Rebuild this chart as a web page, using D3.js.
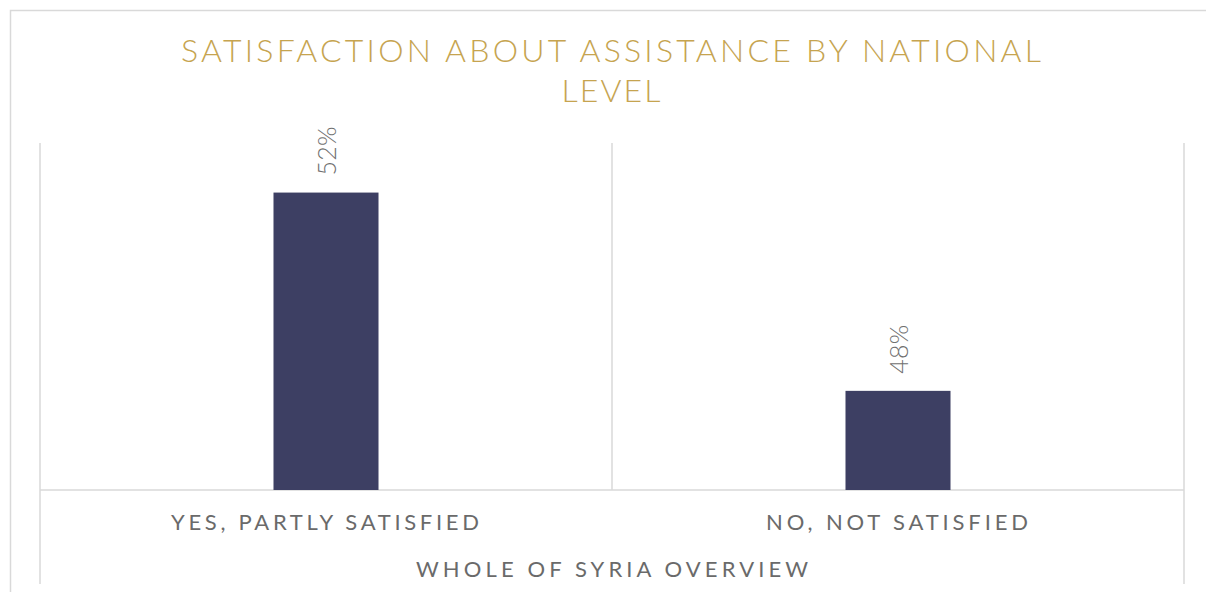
<!DOCTYPE html>
<html>
<head>
<meta charset="utf-8">
<script src="https://cdn.jsdelivr.net/npm/d3@7"></script>
<style>
  html, body { margin: 0; padding: 0; background: #ffffff; }
  svg { display: block; }
  text { font-family: "Lato", "Open Sans", sans-serif; }
</style>
</head>
<body>
<div id="chart"></div>
<script>
// Survey answers and their shares (percent)
const categories = ["YES, PARTLY SATISFIED", "NO, NOT SATISFIED"];
const values = [52, 48];
const groupLabel = "WHOLE OF SYRIA OVERVIEW";
const titleLines = ["SATISFACTION ABOUT ASSISTANCE BY NATIONAL", "LEVEL"];
const valueDomain = [46, 53];

const W = 1206, H = 592;
const plot = { left: 40, right: 1184, top: 143, bottom: 490 };
const gridColor = "#d9d9d9";

const svg = d3.select("#chart").append("svg")
  .attr("width", W).attr("height", H);

// Chart frame
svg.append("path")
  .attr("d", `M10.5,${H + 2}V10.5H${W + 2}`)
  .attr("fill", "none").attr("stroke", gridColor).attr("stroke-width", 1.5);

// Title
const title = svg.append("g").attr("fill", "#c6a450").attr("font-weight", 300)
  .attr("font-size", 32);
const titleLens = [860, 99];
titleLines.forEach((t, i) => {
  title.append("text")
    .attr("x", 611).attr("y", 62 + i * 40)
    .attr("text-anchor", "middle")
    .attr("textLength", titleLens[i]).attr("lengthAdjust", "spacing")
    .text(t);
});

const x = d3.scaleBand().domain(categories).range([plot.left, plot.right]).padding(0);
const y = d3.scaleLinear().domain(valueDomain).range([plot.bottom, plot.top]);
const barW = x.bandwidth() * 0.1836;

// Category separators and baseline
const grid = svg.append("g").attr("stroke", gridColor).attr("stroke-width", 1.5);
const edges = [plot.left, ...categories.slice(1).map(c => x(c)), plot.right];
edges.forEach((ex, i) => {
  const isOuter = i === 0 || i === edges.length - 1;
  grid.append("line")
    .attr("x1", ex).attr("x2", ex)
    .attr("y1", plot.top).attr("y2", isOuter ? 584 : plot.bottom);
});
grid.append("line")
  .attr("x1", plot.left).attr("x2", plot.right)
  .attr("y1", plot.bottom).attr("y2", plot.bottom);

// Bars
svg.append("g").selectAll("rect")
  .data(categories)
  .join("rect")
  .attr("x", (c) => x(c) + x.bandwidth() / 2 - barW / 2)
  .attr("width", barW)
  .attr("y", (c, i) => y(values[i]))
  .attr("height", (c, i) => y(valueDomain[0]) - y(values[i]))
  .attr("fill", "#3d3f63");

// Value labels, rotated
svg.append("g").selectAll("text")
  .data(categories)
  .join("text")
  .attr("transform", (c, i) =>
    `translate(${x(c) + x.bandwidth() / 2 + 10},${y(values[i]) - 17}) rotate(-90)`)
  .attr("font-size", 25)
  .attr("font-weight", 300)
  .attr("fill", "#707070")
  .attr("textLength", 49).attr("lengthAdjust", "spacing")
  .text((c, i) => values[i] + "%");

// Category labels
const catLens = [308, 262];
svg.append("g").selectAll("text")
  .data(categories)
  .join("text")
  .attr("x", (c) => x(c) + x.bandwidth() / 2 - 1)
  .attr("y", 530)
  .attr("text-anchor", "middle")
  .attr("font-size", 22)
  .attr("font-weight", 400)
  .attr("fill", "#6a6a6a")
  .attr("textLength", (c, i) => catLens[i]).attr("lengthAdjust", "spacing")
  .text((c) => c);

// Group label
svg.append("text")
  .attr("x", (plot.left + plot.right) / 2)
  .attr("y", 577)
  .attr("text-anchor", "middle")
  .attr("font-size", 22)
  .attr("font-weight", 400)
  .attr("fill", "#6a6a6a")
  .attr("textLength", 392).attr("lengthAdjust", "spacing")
  .text(groupLabel);
</script>
</body>
</html>
